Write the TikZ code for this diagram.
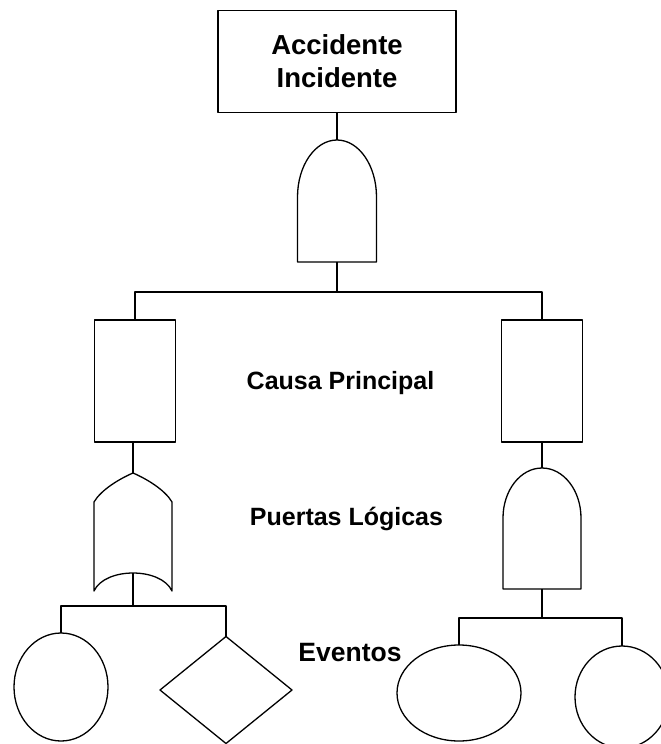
\documentclass[tikz,border=0pt]{standalone}
\usepackage{fontspec}
\setmainfont{Liberation Sans}
\usetikzlibrary{shapes.geometric,calc}
\newcommand\andgateshape[3]{% node, half width, dome height
  \draw[gateline] (#1.south west) -- ($(#1.north west)+(0,#3)$)
    .. controls ($(#1.north west)+(0,0.4477*#3)$) and ($(#1.north)+(-0.5523*#2,0)$) .. (#1.north)
    .. controls ($(#1.north)+(0.5523*#2,0)$) and ($(#1.north east)+(0,0.4477*#3)$) .. ($(#1.north east)+(0,#3)$)
    -- (#1.south east) -- cycle;}
\begin{document}
\begin{tikzpicture}[x=1pt,y=-1pt,
  line width=1.3pt, line join=round,
  every node/.style={inner sep=0pt, outer sep=0pt},
  gateline/.style={line width=1.3pt},
  gatebox/.style={draw=none},
  rectbox/.style={draw, line width=1.3pt, minimum height=122pt},
  eventshape/.style={draw, line width=1.3pt},
  lab/.style={font=\fontsize{25}{30}\selectfont\bfseries, anchor=base},
  conn/.style={line width=1.3pt}]
\useasboundingbox (0,0) rectangle (661,744);
% top event
\node[draw, line width=1.5pt, minimum width=238pt, minimum height=102pt, align=center,
      font=\fontsize{27.5}{33}\selectfont\bfseries] (top) at (337,61.3) {Accidente\\Incidente};
% top AND gate
\node[gatebox, minimum width=79pt, minimum height=122pt] (g1) at (337,201) {};
\andgateshape{g1}{39.5}{57}
\coordinate (j1) at (337,292);
% intermediate rectangles
\node[rectbox, minimum width=81pt] (r1) at (135,381) {};
\node[rectbox, minimum width=81pt] (r2) at (542,381) {};
% OR gate
\node[gatebox, minimum width=78pt, minimum height=118pt] (or1) at (133,532) {};
\draw[gateline] ($(or1)+(-39,59)$) -- ($(or1)+(-39,-30)$)
   .. controls ($(or1)+(-32,-42)$) and ($(or1)+(-14,-53)$) .. (or1.north)
   .. controls ($(or1)+(14,-53)$) and ($(or1)+(32,-42)$) .. ($(or1)+(39,-30)$)
   -- ($(or1)+(39,59)$)
   .. controls ($(or1)+(28,35)$) and ($(or1)+(-28,35)$) .. cycle;
\coordinate (or1in) at ($(or1)+(0,41)$);
% right AND gate
\node[gatebox, minimum width=78pt, minimum height=121pt] (g2) at (542,528.5) {};
\andgateshape{g2}{39}{50}
% basic events
\node[eventshape, ellipse, minimum width=94pt, minimum height=108pt] (e1) at (61,687) {};
\node[eventshape, diamond, minimum width=132pt, minimum height=107pt] (d1) at (226,690) {};
\node[eventshape, ellipse, minimum width=124pt, minimum height=96pt] (e3) at (459,693) {};
\node[eventshape, ellipse, minimum width=94pt, minimum height=102pt] (e4) at (622,697) {};
\coordinate (j2) at (133,606);
\coordinate (j3) at (542,618);
% connectors
\draw[conn] (top.south) -- (g1.north);
\draw[conn] (g1.south) -- (j1);
\draw[conn] (r1.north) |- (j1) -| (r2.north);
\draw[conn] (or1.north |- r1.south) -- (or1.north);
\draw[conn] (r2.south -| g2.north) -- (g2.north);
\draw[conn] (or1in) -- (j2);
\draw[conn] (e1.north) |- (j2) -| (d1.north);
\draw[conn] (g2.south) -- (j3);
\draw[conn] (e3.north) |- (j3) -| (e4.north);
% labels
\node[lab] (causa) at (340.5,389) {Causa Principal};
\node[lab] (puertas) at (346.5,525) {Puertas Lógicas};
\node[lab, font=\fontsize{26.5}{30}\selectfont\bfseries] (eventos) at (350,661) {Eventos};
\end{tikzpicture}
\end{document}
